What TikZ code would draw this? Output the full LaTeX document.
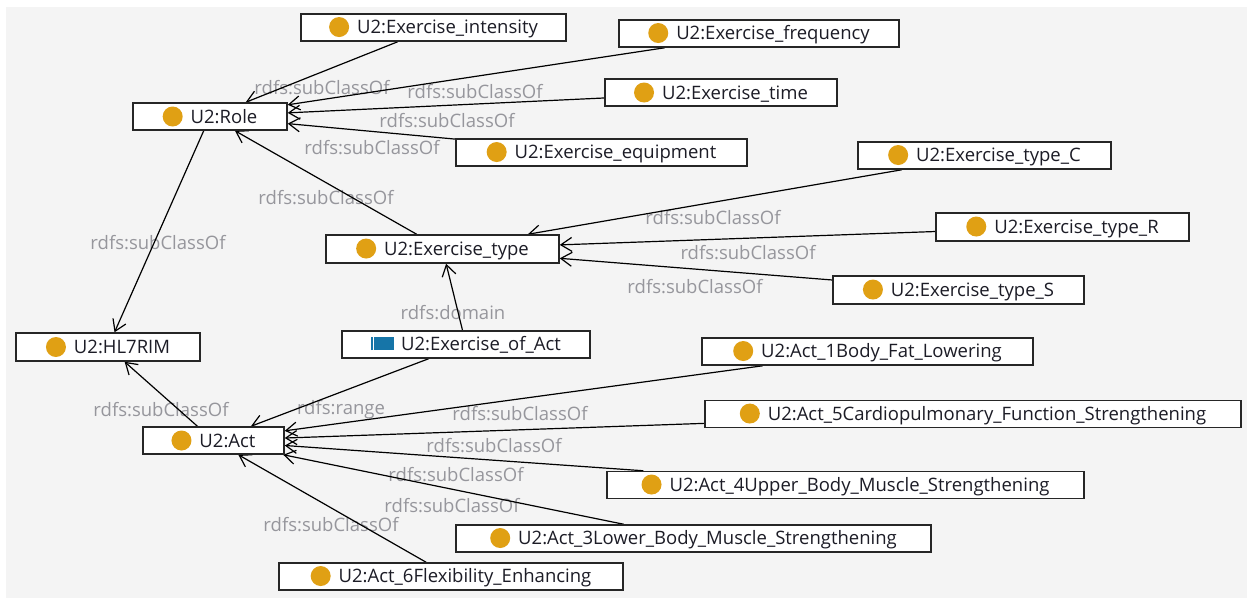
\documentclass[tikz,border=0pt]{standalone}
\usepackage{fontspec}
\setmainfont{Open Sans}
\usetikzlibrary{arrows.meta}

\definecolor{canvas}{HTML}{F4F4F4}
\definecolor{classdot}{RGB}{224,160,20}
\definecolor{propblue}{RGB}{22,117,168}
\definecolor{edgelabel}{RGB}{150,150,156}
\definecolor{boxtext}{RGB}{28,28,38}

\pgfdeclarelayer{bg}
\pgfdeclarelayer{labels}
\pgfdeclarelayer{edges}
\pgfsetlayers{bg,labels,edges,main}

% orange dot marking an OWL class
\newcommand\classicon{\tikz[baseline={(0pt,-6.5pt)}]\fill[classdot] (0pt,0pt) circle[radius=10pt];\hspace{8pt}}
% blue bar marking an object property
\newcommand\propicon{\textcolor{propblue}{\rule{2pt}{13pt}}\hspace{1pt}\textcolor{propblue}{\rule{20pt}{13pt}}\hspace{7pt}}

\tikzset{
  box/.style={draw=black!85, line width=1.5pt, fill=white, minimum height=27pt,
    inner sep=0pt, text=boxtext, font=\fontsize{18.5}{22}\selectfont},
  lbl/.style={inner sep=0pt, text=edgelabel, font=\fontsize{18.5}{22}\selectfont},
  rel/.style={draw=black, line width=1.2pt,
    -{Straight Barb[length=11pt,width=14pt,line width=1.2pt]}},
}

\begin{document}
\begin{tikzpicture}[x=1pt, y=-1pt]
\useasboundingbox (0,0) rectangle (1247,598);
\begin{pgfonlayer}{bg}
  \fill[white] (0,0) rectangle (1247,598);
  \fill[canvas] (6,7) rectangle (1247,598);
\end{pgfonlayer}

% classes and the property
\node[box, minimum width=265pt] (intensity) at (433.5,27.5) {\classicon U2:Exercise\_intensity};
\node[box, minimum width=280pt] (frequency) at (759,33.5)   {\classicon U2:Exercise\_frequency};
\node[box, minimum width=154pt] (role)      at (210,116.5)  {\classicon U2:Role};
\node[box, minimum width=232pt] (time)      at (721,92.5)   {\classicon U2:Exercise\_time};
\node[box, minimum width=291pt] (equip)     at (601.5,152.5){\classicon U2:Exercise\_equipment};
\node[box, minimum width=253pt] (typeC)     at (984.5,155.5){\classicon U2:Exercise\_type\_C};
\node[box, minimum width=233pt, minimum height=28pt] (type) at (442.5,249) {\classicon U2:Exercise\_type};
\node[box, minimum width=253pt, minimum height=28pt] (typeR) at (1062.5,227) {\classicon U2:Exercise\_type\_R};
\node[box, minimum width=251pt, minimum height=28pt] (typeS) at (958.5,290) {\classicon U2:Exercise\_type\_S};
\node[box, minimum width=184pt, minimum height=28pt] (hl7) at (108,347) {\classicon U2:HL7RIM};
\node[box, minimum width=248pt] (exact)     at (466,344.5)  {\propicon U2:Exercise\_of\_Act};
\node[box, minimum width=141pt] (act)       at (213.5,440.5){\classicon U2:Act};
\node[box, minimum width=331pt] (act1)      at (867.5,351.5){\classicon U2:Act\_1Body\_Fat\_Lowering};
\node[box, minimum width=536pt] (act5)      at (973,414)    {\classicon U2:Act\_5Cardiopulmonary\_Function\_Strengthening};
\node[box, minimum width=477pt] (act4)      at (845.5,485)  {\classicon U2:Act\_4Upper\_Body\_Muscle\_Strengthening};
\node[box, minimum width=475pt] (act3)      at (693.5,538.5){\classicon U2:Act\_3Lower\_Body\_Muscle\_Strengthening};
\node[box, minimum width=344pt] (act6)      at (451,576.5)  {\classicon U2:Act\_6Flexibility\_Enhancing};

% relation labels
\begin{pgfonlayer}{labels}
  \node[lbl] (l1)  at (322,88)  {rdfs:subClassOf};
  \node[lbl] (l2)  at (475,92)  {rdfs:subClassOf};
  \node[lbl] (l3)  at (447,121) {rdfs:subClassOf};
  \node[lbl] (l4)  at (372,148) {rdfs:subClassOf};
  \node[lbl] (l5)  at (326,198) {rdfs:subClassOf};
  \node[lbl] (l6)  at (158,243) {rdfs:subClassOf};
  \node[lbl] (l7)  at (713,218) {rdfs:subClassOf};
  \node[lbl] (l8)  at (748,253) {rdfs:subClassOf};
  \node[lbl] (l9)  at (695,287) {rdfs:subClassOf};
  \node[lbl] (l10) at (453,313) {rdfs:domain};
  \node[lbl] (l11) at (341,410) {rdfs:range};
  \node[lbl] (l12) at (161,410) {rdfs:subClassOf};
  \node[lbl] (l13) at (520,414) {rdfs:subClassOf};
  \node[lbl] (l14) at (494,446) {rdfs:subClassOf};
  \node[lbl] (l15) at (456,475) {rdfs:subClassOf};
  \node[lbl] (l16) at (452,506) {rdfs:subClassOf};
  \node[lbl] (l17) at (331,525) {rdfs:subClassOf};
\end{pgfonlayer}

% connectors
\begin{pgfonlayer}{edges}
  \draw[rel] (intensity) -- (role);
  \draw[rel] (frequency) -- (role);
  \draw[rel] (time) -- (role);
  \draw[rel] (equip) -- (role);
  \draw[rel] (type) -- (role);
  \draw[rel] (role) -- (hl7);
  \draw[rel] (typeC) -- (type);
  \draw[rel] (typeR) -- (type);
  \draw[rel] (typeS) -- (type);
  \draw[rel] (exact) -- (type);
  \draw[rel] (exact) -- (act);
  \draw[rel] (act) -- (hl7);
  \draw[rel] (act1) -- (act);
  \draw[rel] (act5) -- (act);
  \draw[rel] (act4) -- (act);
  \draw[rel] (act3) -- (act);
  \draw[rel] (act6) -- (act);
\end{pgfonlayer}
\end{tikzpicture}
\end{document}
